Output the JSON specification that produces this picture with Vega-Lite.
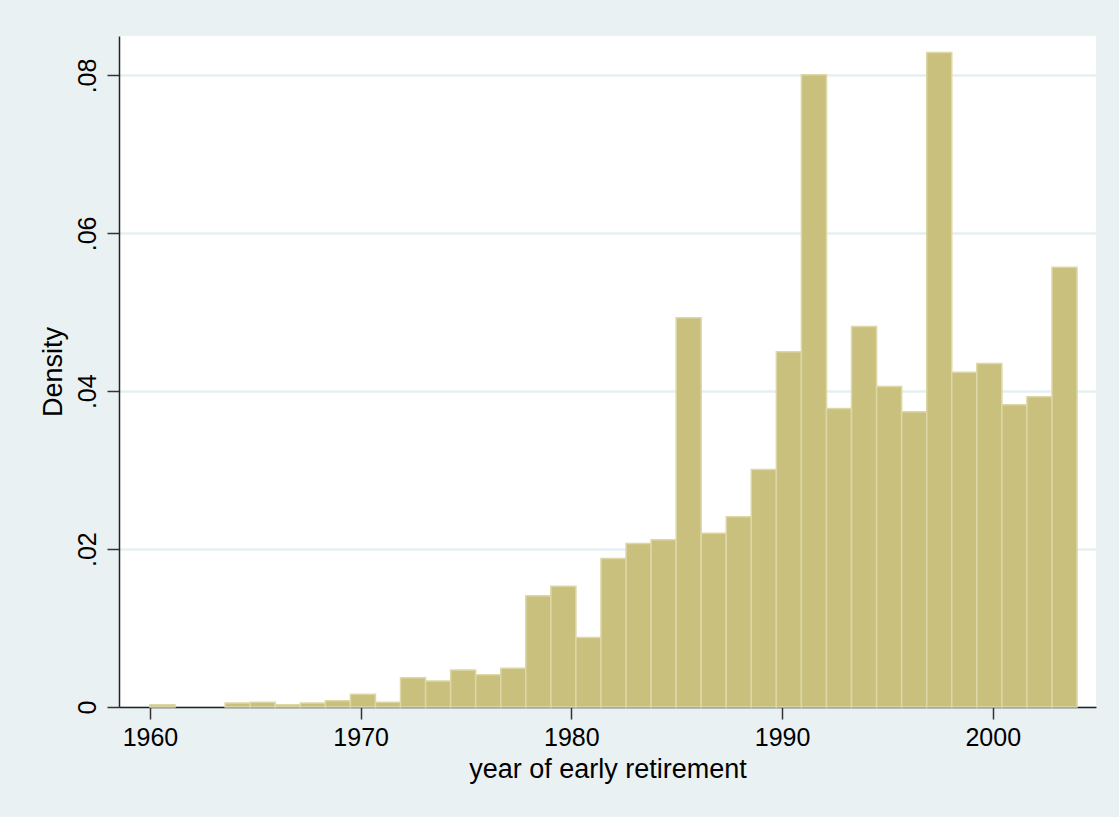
{
  "$schema": "https://vega.github.io/schema/vega-lite/v6.json",
  "width": 977,
  "height": 671,
  "autosize": "none",
  "padding": {"left": 119, "top": 36, "right": 23, "bottom": 110},
  "background": "#eaf1f3",
  "config": {
    "view": {"fill": "white", "stroke": null},
    "font": "Liberation Sans"
  },
  "data": {
    "values": [
      {"start": 1960.000, "end": 1961.189, "density": 0.0003},
      {"start": 1963.568, "end": 1964.757, "density": 0.0005},
      {"start": 1964.757, "end": 1965.946, "density": 0.0006},
      {"start": 1965.946, "end": 1967.135, "density": 0.0003},
      {"start": 1967.135, "end": 1968.324, "density": 0.0005},
      {"start": 1968.324, "end": 1969.514, "density": 0.0008},
      {"start": 1969.514, "end": 1970.703, "density": 0.0016},
      {"start": 1970.703, "end": 1971.892, "density": 0.0006},
      {"start": 1971.892, "end": 1973.081, "density": 0.0037},
      {"start": 1973.081, "end": 1974.270, "density": 0.0033},
      {"start": 1974.270, "end": 1975.459, "density": 0.0047},
      {"start": 1975.459, "end": 1976.649, "density": 0.0041},
      {"start": 1976.649, "end": 1977.838, "density": 0.0049},
      {"start": 1977.838, "end": 1979.027, "density": 0.0141},
      {"start": 1979.027, "end": 1980.216, "density": 0.0153},
      {"start": 1980.216, "end": 1981.405, "density": 0.0088},
      {"start": 1981.405, "end": 1982.595, "density": 0.0188},
      {"start": 1982.595, "end": 1983.784, "density": 0.0207},
      {"start": 1983.784, "end": 1984.973, "density": 0.0212},
      {"start": 1984.973, "end": 1986.162, "density": 0.0493},
      {"start": 1986.162, "end": 1987.351, "density": 0.0220},
      {"start": 1987.351, "end": 1988.541, "density": 0.0241},
      {"start": 1988.541, "end": 1989.730, "density": 0.0301},
      {"start": 1989.730, "end": 1990.919, "density": 0.0450},
      {"start": 1990.919, "end": 1992.108, "density": 0.0801},
      {"start": 1992.108, "end": 1993.297, "density": 0.0378},
      {"start": 1993.297, "end": 1994.486, "density": 0.0482},
      {"start": 1994.486, "end": 1995.676, "density": 0.0406},
      {"start": 1995.676, "end": 1996.865, "density": 0.0374},
      {"start": 1996.865, "end": 1998.054, "density": 0.0829},
      {"start": 1998.054, "end": 1999.243, "density": 0.0424},
      {"start": 1999.243, "end": 2000.432, "density": 0.0435},
      {"start": 2000.432, "end": 2001.622, "density": 0.0383},
      {"start": 2001.622, "end": 2002.811, "density": 0.0393},
      {"start": 2002.811, "end": 2004.000, "density": 0.0557}
    ]
  },
  "mark": {"type": "bar", "fill": "#c9c07e", "stroke": "#ddd7a6", "strokeWidth": 1.5},
  "encoding": {
    "x": {
      "field": "start",
      "type": "quantitative",
      "scale": {"domain": [1958.53, 2004.9], "nice": false, "zero": false},
      "axis": {
        "values": [1960, 1970, 1980, 1990, 2000],
        "format": "d",
        "title": "year of early retirement",
        "titleFontSize": 27,
        "titleFontWeight": "normal",
        "titleColor": "black",
        "titlePadding": 6,
        "labelFontSize": 25,
        "labelColor": "black",
        "labelPadding": 6,
        "tickSize": 12,
        "tickWidth": 1.5,
        "tickColor": "#333333",
        "domainColor": "#222222",
        "domainWidth": 1.5,
        "grid": false
      }
    },
    "x2": {"field": "end"},
    "y": {
      "field": "density",
      "type": "quantitative",
      "scale": {"domain": [0, 0.085], "nice": false},
      "axis": {
        "values": [0, 0.02, 0.04, 0.06, 0.08],
        "labelExpr": "datum.value == 0 ? '0' : substring(format(datum.value, '.2f'), 1)",
        "title": "Density",
        "titleFontSize": 27,
        "titleFontWeight": "normal",
        "titleColor": "black",
        "titlePadding": 8,
        "labelFontSize": 25,
        "labelColor": "black",
        "labelAngle": -90,
        "labelAlign": "center",
        "labelBaseline": "bottom",
        "labelPadding": 7,
        "tickSize": 12,
        "tickWidth": 1.5,
        "tickColor": "#333333",
        "domainColor": "#222222",
        "domainWidth": 1.5,
        "grid": true,
        "gridColor": "#e6eff1",
        "gridWidth": 2.5
      }
    },
    "y2": {"datum": 0}
  }
}
